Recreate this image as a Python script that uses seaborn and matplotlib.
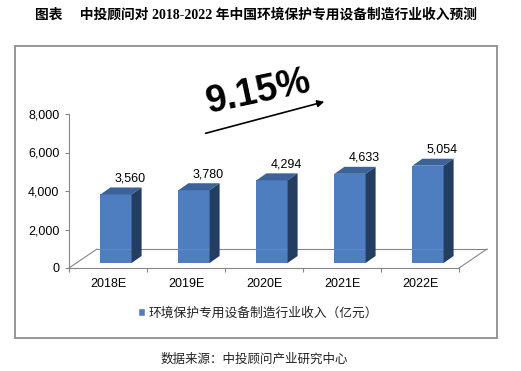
import matplotlib
matplotlib.use("Agg")
import matplotlib.pyplot as plt
import seaborn as sns
from matplotlib.patches import Polygon, Rectangle, Patch
from matplotlib.transforms import ScaledTranslation, IdentityTransform

years = ['2018E', '2019E', '2020E', '2021E', '2022E']
revenue = [3560, 3780, 4294, 4633, 5054]
legend_label = '环境保护专用设备制造行业收入（亿元）'
title = '图表　 中投顾问对 2018-2022 年中国环境保护专用设备制造行业收入预测'
source = '数据来源：中投顾问产业研究中心'
growth = '9.15%'

front_c = '#4F7EC0'
top_c = '#3C6399'
side_c = '#243E62'
grey = '#858585'

sns.set_theme(style='white')
plt.rcParams['font.family'] = ['Liberation Sans', 'Noto Sans CJK SC', 'DejaVu Sans']

W, H = 521, 371
fig = plt.figure(figsize=(W / 100, H / 100), dpi=100)
ax = fig.add_axes([69 / W, 103 / H, 390 / W, 154 / H])

sns.barplot(x=years, y=revenue, color=front_c, saturation=1, width=0.4, ax=ax)
ax.set_xlim(-0.5, 4.5)
ax.set_ylim(0, 8000)

# shift bar fronts onto the middle of the 3d floor
shift = ScaledTranslation(8 / 100, 5 / 100, fig.dpi_scale_trans)
for p in ax.patches:
    p.set_transform(ax.transData + shift)
    p.set_edgecolor('none')

fig.canvas.draw()
ident = IdentityTransform()

# floor
x0, y0 = ax.transData.transform((-0.5, 0))
x1, _ = ax.transData.transform((4.5, 0))
fdx, fdy = 28, 19
for a, b in [((x0, y0), (x0 + fdx, y0 + fdy)),
             ((x1, y0), (x1 + fdx, y0 + fdy)),
             ((x0 + fdx, y0 + fdy), (x1 + fdx, y0 + fdy))]:
    ax.add_line(plt.Line2D([a[0], b[0]], [a[1], b[1]], transform=ident,
                           color=grey, lw=0.8, clip_on=False, zorder=1))

# 3d faces and value labels
dx, dy = 10, 7
for p, v in zip(ax.patches, revenue):
    bx0, by0 = ax.transData.transform((p.get_x(), 0))
    bx1, by1 = ax.transData.transform((p.get_x() + p.get_width(), v))
    bx0 += 8; bx1 += 8; by0 += 5; by1 += 5
    ax.add_patch(Polygon([(bx0, by1), (bx1, by1), (bx1 + dx, by1 + dy), (bx0 + dx, by1 + dy)],
                         closed=True, transform=ident, facecolor=top_c, edgecolor='none',
                         clip_on=False, zorder=3))
    ax.add_patch(Polygon([(bx1, by0), (bx1 + dx, by0 + dy), (bx1 + dx, by1 + dy), (bx1, by1)],
                         closed=True, transform=ident, facecolor=side_c, edgecolor='none',
                         clip_on=False, zorder=3))
    ax.text((bx0 + bx1) / 2 + 14, by1 + 16, f'{v:,}', transform=ident,
            ha='center', va='center', fontsize=9, color='black')

sns.despine(ax=ax)
for s in ['left', 'bottom']:
    ax.spines[s].set_color(grey)
    ax.spines[s].set_linewidth(0.8)
ax.set_yticks(range(0, 8001, 2000))
ax.set_yticklabels([f'{t:,}' for t in range(0, 8001, 2000)])
ax.set_xticks([-0.5, 0.5, 1.5, 2.5, 3.5, 4.5], minor=True)
ax.tick_params(axis='y', left=True, length=3, width=0.8, color=grey, pad=4, labelsize=9, labelcolor='black')
ax.tick_params(axis='x', which='major', length=0, pad=7, labelsize=9, labelcolor='black')
ax.tick_params(axis='x', which='minor', bottom=True, length=3, width=0.8, color=grey)
ax.set_xlabel('')
ax.set_ylabel('')
ax.grid(False)

# growth annotation
fig.text(259 / W, 1 - 92 / H, growth, fontsize=27, fontweight='bold', rotation=12,
         ha='center', va='center', rotation_mode='anchor', color='black')
ax.annotate('', xy=(327, H - 101), xytext=(203, H - 134), xycoords='figure pixels',
            textcoords='figure pixels',
            arrowprops=dict(arrowstyle='-|>', color='black', lw=1.2, mutation_scale=10))

# legend
fig.legend(handles=[Patch(facecolor=front_c)], labels=[legend_label],
           loc='center', bbox_to_anchor=(258 / W, 1 - 313 / H), frameon=False,
           handlelength=0.55, handleheight=0.55, handletextpad=0.3,
           prop={'family': ['Noto Sans CJK SC'], 'size': 9.2}, labelcolor='#222222')

# frame around chart area
fig.add_artist(Rectangle((15 / W, (H - 338) / H), 482 / W, 292 / H, transform=fig.transFigure,
                         fill=False, edgecolor=grey, lw=1.2))

fig.text(256 / W, 1 - 15 / H, title, ha='center', va='center', fontsize=9.9, fontweight='bold',
         family=['Liberation Serif', 'Noto Sans CJK SC'], color='black')
fig.text(254 / W, 1 - 359 / H, source, ha='center', va='center', fontsize=9,
         family=['Noto Sans CJK SC'], color='#222222')

fig.savefig('out.png', dpi=100)
